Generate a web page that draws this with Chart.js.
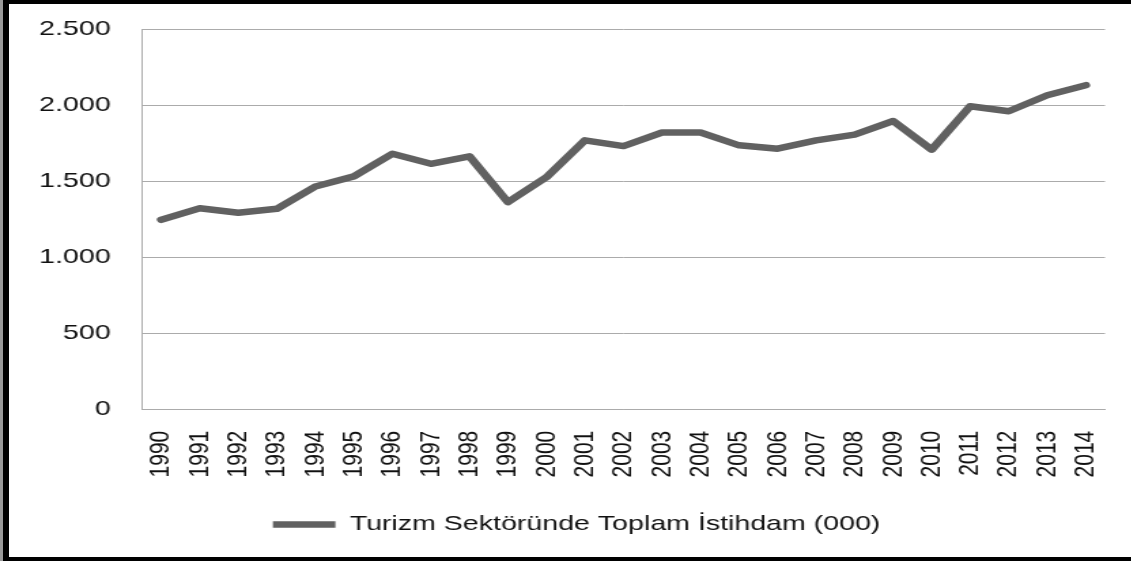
<!DOCTYPE html>
<html>
<head>
<meta charset="utf-8">
<script src="https://cdn.jsdelivr.net/npm/chart.js@4.4.1/dist/chart.umd.min.js"></script>
<style>
  html, body { margin: 0; padding: 0; background: #fff; }
  body { width: 1131px; height: 561px; overflow: hidden; position: relative; }
  /* the source picture is stretched sideways, so the chart is drawn narrow and widened */
  #wrap { position: absolute; left: 0; top: 0; width: 832px; height: 561px; transform: scaleX(1.36); transform-origin: 0 0; }
  #shade { position: absolute; left: 0; top: 0; width: 3px; height: 561px; background: #9a9a9a; }
  #frame { position: absolute; left: 3px; top: 0; width: 1200px; height: 561px; box-sizing: border-box;
           border-left: 6px solid #000; border-top: 4px solid #000; border-bottom: 4px solid #000; pointer-events: none; }
</style>
</head>
<body>
<div id="wrap"><canvas id="chart"></canvas></div>
<div id="shade"></div>
<div id="frame"></div>
<script>
const years = ['1990','1991','1992','1993','1994','1995','1996','1997','1998','1999','2000','2001','2002',
               '2003','2004','2005','2006','2007','2008','2009','2010','2011','2012','2013','2014'];
const employment = [1247, 1323, 1293, 1319, 1466, 1532, 1681, 1615, 1664, 1363, 1527, 1769, 1731,
                    1820, 1820, 1736, 1714, 1769, 1806, 1896, 1708, 1993, 1960, 2065, 2131];
const yTickLabels = ['0', '500', '1.000', '1.500', '2.000', '2.500'];
const seriesName = 'Turizm Sektöründe Toplam İstihdam (000)';

const textFont = { family: "'Liberation Sans', Arial, sans-serif", size: 21 };
const gridGray = '#ababab';

const ctx = document.getElementById('chart').getContext('2d');
new Chart(ctx, {
  type: 'line',
  data: {
    labels: years,
    datasets: [{
      label: seriesName,
      data: employment,
      borderColor: '#616161',
      backgroundColor: '#616161',
      borderWidth: 6.5,
      pointRadius: 0,
      tension: 0,
      borderCapStyle: 'round',
      borderJoinStyle: 'round'
    }]
  },
  options: {
    responsive: true,
    maintainAspectRatio: false,
    animation: false,
    layout: { padding: { top: 29, left: 20, right: 4, bottom: 16 } },
    plugins: {
      tooltip: { enabled: false },
      legend: {
        position: 'bottom',
        labels: {
          usePointStyle: true,
          pointStyle: 'line',
          pointStyleWidth: 46,
          color: '#111',
          font: textFont,
          padding: 12
        }
      }
    },
    scales: {
      x: {
        offset: true,
        // invisible tick marks keep the label gap without widening the layout padding
        grid: { display: true, color: 'transparent', drawTicks: true, tickLength: 21, tickColor: 'transparent' },
        border: { display: true, color: gridGray },
        ticks: { autoSkip: false, minRotation: 90, maxRotation: 90, padding: 0, color: '#111', font: textFont },
        afterFit(scale) { scale.height = 92.3; }
      },
      y: {
        min: 0,
        max: 2500,
        grid: { color: gridGray, drawTicks: true, tickLength: 23, tickColor: 'transparent' },
        border: { display: true, color: gridGray },
        ticks: {
          stepSize: 500,
          padding: 0,
          color: '#111',
          font: textFont,
          callback: (value, i) => yTickLabels[i]
        },
        afterFit(scale) { scale.width = 84.4; }
      },
      // empty right axis: leaves the right margin so the legend sits where the original has it
      y2: {
        position: 'right',
        display: true,
        grid: { display: false },
        border: { display: false },
        ticks: { display: false },
        afterFit(scale) { scale.width = 15.5; }
      }
    }
  }
});
</script>
</body>
</html>
